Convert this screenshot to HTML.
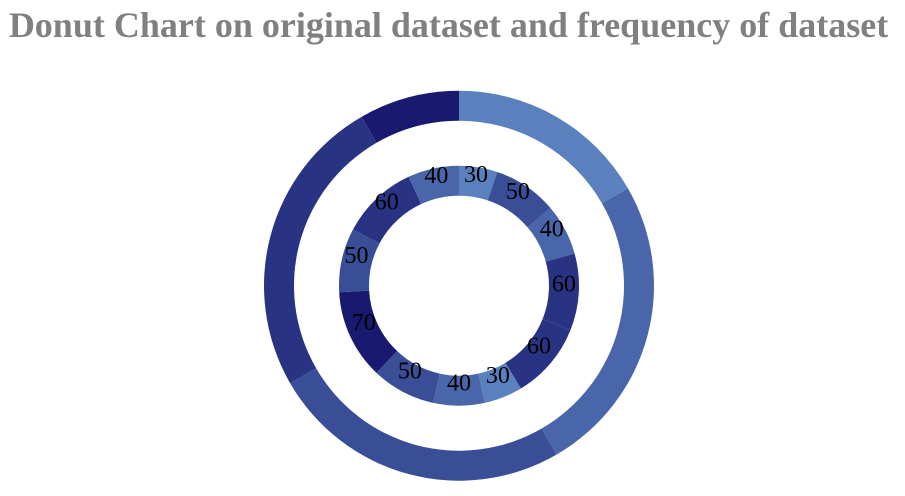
<!DOCTYPE html>
<html lang="en">
<head>
<meta charset="utf-8">
<title>Donut Chart</title>
<style>
  html, body { margin: 0; padding: 0; background: #fff; }
  body { width: 905px; height: 496px; overflow: hidden; position: relative; }
  svg { position: absolute; left: 0; top: 0; display: block; }
  text { font-family: "Liberation Serif", serif; }
  .title { font-size: 36px; font-weight: bold; fill: #808080; text-anchor: middle; }
  .label { font-size: 24px; fill: #000; text-anchor: middle; }
</style>
</head>
<body>
<svg id="chart" width="905" height="496" viewBox="0 0 905 496">
  <text class="title" x="448.5" y="37">Donut Chart on original dataset and frequency of dataset</text>
  <g id="outer-ring"></g>
  <g id="inner-ring"></g>
  <g id="labels"></g>
</svg>
<script>
const datasetValues = [30, 50, 40, 60, 60, 30, 40, 50, 70, 50, 60, 40];
const frequencyCategories = [30, 40, 50, 60, 70];
const frequencyValues = [2, 3, 3, 3, 1];

const NS = 'http://www.w3.org/2000/svg';
const cx = 459, cy = 285.7;
const outerRadii = { r0: 165, r1: 195 };
const innerRadii = { r0: 90, r1: 120 };

function colorScale(v) {
  const min = Math.min.apply(null, frequencyCategories);
  const max = Math.max.apply(null, frequencyCategories);
  const t = (v - min) / (max - min);
  const a = [90, 128, 190], b = [25, 25, 112];
  return 'rgb(' + a.map(function (c, i) { return Math.round(c + (b[i] - c) * t); }).join(',') + ')';
}

function point(angle, r) {
  return [cx + r * Math.sin(angle), cy - r * Math.cos(angle)];
}

function arcPath(a0, a1, r0, r1) {
  const large = a1 - a0 > Math.PI ? 1 : 0;
  const p1 = point(a0, r1), p2 = point(a1, r1), p3 = point(a1, r0), p4 = point(a0, r0);
  return 'M' + p1[0] + ',' + p1[1] +
    'A' + r1 + ',' + r1 + ' 0 ' + large + ' 1 ' + p2[0] + ',' + p2[1] +
    'L' + p3[0] + ',' + p3[1] +
    'A' + r0 + ',' + r0 + ' 0 ' + large + ' 0 ' + p4[0] + ',' + p4[1] + 'Z';
}

function angles(values) {
  const total = values.reduce(function (s, v) { return s + v; }, 0);
  let acc = 0;
  return values.map(function (v) {
    const start = acc / total * 2 * Math.PI;
    acc += v;
    return [start, acc / total * 2 * Math.PI];
  });
}

const outerGroup = document.getElementById('outer-ring');
angles(frequencyValues).forEach(function (a, i) {
  const el = document.createElementNS(NS, 'path');
  el.setAttribute('d', arcPath(a[0], a[1], outerRadii.r0, outerRadii.r1));
  el.setAttribute('fill', colorScale(frequencyCategories[i]));
  
  
  outerGroup.appendChild(el);
});

const innerGroup = document.getElementById('inner-ring');
const labelGroup = document.getElementById('labels');
angles(datasetValues).forEach(function (a, i) {
  const el = document.createElementNS(NS, 'path');
  el.setAttribute('d', arcPath(a[0], a[1], innerRadii.r0, innerRadii.r1));
  el.setAttribute('fill', colorScale(datasetValues[i]));
  
  
  innerGroup.appendChild(el);

  const mid = (a[0] + a[1]) / 2;
  const p = point(mid, (innerRadii.r0 + innerRadii.r1) / 2);
  const t = document.createElementNS(NS, 'text');
  t.setAttribute('class', 'label');
  t.setAttribute('x', p[0]);
  t.setAttribute('y', p[1]);
  t.textContent = datasetValues[i];
  
  
  labelGroup.appendChild(t);
});
</script>
</body>
</html>
